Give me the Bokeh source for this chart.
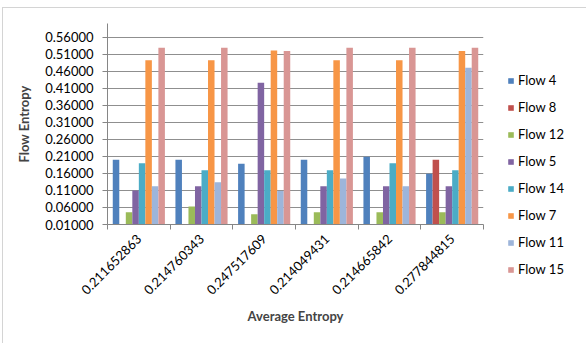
from bokeh.plotting import figure
from bokeh.models import Range1d, FixedTicker, Legend, LegendItem, InlineStyleSheet, NumeralTickFormatter
from bokeh.embed import file_html
from bokeh.resources import INLINE

# Category labels (average entropy of each run)
categories = ["0.211652863", "0.214760343", "0.247517609",
              "0.214049431", "0.214665842", "0.277844815"]

# Flow entropy per flow, one value per category
flow_4 = [0.200, 0.200, 0.188, 0.200, 0.209, 0.159]
flow_8 = [0.000, 0.000, 0.000, 0.000, 0.000, 0.200]
flow_12 = [0.046, 0.063, 0.040, 0.046, 0.046, 0.046]
flow_5 = [0.110, 0.122, 0.426, 0.122, 0.122, 0.122]
flow_14 = [0.190, 0.169, 0.169, 0.169, 0.190, 0.169]
flow_7 = [0.492, 0.492, 0.521, 0.492, 0.492, 0.519]
flow_11 = [0.122, 0.134, 0.108, 0.145, 0.122, 0.470]
flow_15 = [0.529, 0.529, 0.519, 0.529, 0.529, 0.529]

series_names = ["Flow 4", "Flow 8", "Flow 12", "Flow 5",
                "Flow 14", "Flow 7", "Flow 11", "Flow 15"]
series_values = [flow_4, flow_8, flow_12, flow_5, flow_14, flow_7, flow_11, flow_15]
series_colors = ["#4F81BD", "#C0504D", "#9BBB59", "#8064A2",
                 "#4BACC6", "#F79646", "#9DB5DA", "#D99694"]

# y axis ticks
y_ticks = [0.01, 0.06, 0.11, 0.16, 0.21, 0.26, 0.31, 0.36, 0.41, 0.46, 0.51, 0.56]

FONT = "Lato"
AXIS_GRAY = "#868686"

n = len(categories)
centers = [i + 0.5 for i in range(n)]
bounds = [float(i) for i in range(n + 1)]
bar_w = 0.104

p = figure(frame_width=376, frame_height=201, output_backend="svg", toolbar_location=None,
           x_range=Range1d(0, n), y_range=Range1d(0.01, 0.6),
           min_border_left=104, min_border_right=97, min_border_top=15,
           min_border_bottom=129)
p.outline_line_color = None
p.background_fill_color = "white"
p.border_fill_color = "white"
p.stylesheets = [InlineStyleSheet(css=":host { border: 1px solid #d4d4d4; "
                                      "border-right: 2px solid #a8a8a8; "
                                      "margin: 7px 0 0 2px; }")]

renderers = []
for j, (name, vals, col) in enumerate(zip(series_names, series_values, series_colors)):
    xs = [c + (j - 3.5) * bar_w for c in centers]
    r = p.vbar(x=xs, top=vals, bottom=0, width=bar_w, fill_color=col, line_color=None)
    renderers.append((name, r))

# y axis
p.yaxis.ticker = FixedTicker(ticks=y_ticks)
p.yaxis.formatter = NumeralTickFormatter(format="0.00000")
p.yaxis.axis_line_color = AXIS_GRAY
p.yaxis.major_tick_line_color = AXIS_GRAY
p.yaxis.major_tick_out = 5
p.yaxis.major_tick_in = 0
p.yaxis.minor_tick_line_color = None
p.yaxis.major_label_standoff = 9
p.yaxis.major_label_text_font = FONT
p.yaxis.major_label_text_font_size = "13px"
p.yaxis.major_label_text_color = "black"
p.yaxis.axis_label = "Flow Entropy"
p.yaxis.axis_label_text_font = FONT
p.yaxis.axis_label_text_font_style = "bold"
p.yaxis.axis_label_text_font_size = "13px"
p.yaxis.axis_label_standoff = 10

# x axis: labels at group centres, tick marks at group boundaries
p.xaxis.ticker = FixedTicker(ticks=centers, minor_ticks=bounds)
p.xaxis.major_label_overrides = {c: lab for c, lab in zip(centers, categories)}
p.xaxis.major_label_orientation = 0.785398
p.xaxis.axis_line_color = AXIS_GRAY
p.xaxis.major_tick_line_color = None
p.xaxis.minor_tick_line_color = AXIS_GRAY
p.xaxis.minor_tick_out = 5
p.xaxis.minor_tick_in = 0
p.xaxis.major_label_standoff = 6
p.xaxis.major_label_text_font = FONT
p.xaxis.major_label_text_font_size = "13px"
p.xaxis.major_label_text_color = "black"
p.xaxis.axis_label = "Average Entropy"
p.xaxis.axis_label_text_font = FONT
p.xaxis.axis_label_text_font_style = "bold"
p.xaxis.axis_label_text_font_size = "13px"
p.xaxis.axis_label_standoff = 6

p.xgrid.visible = False
p.ygrid.ticker = FixedTicker(ticks=y_ticks)
p.ygrid.grid_line_color = "#8f8f8f"

legend = Legend(items=[LegendItem(label=nm, renderers=[r]) for nm, r in renderers],
                location=(24, -55), orientation="vertical",
                glyph_width=7, glyph_height=7, label_height=20, spacing=7,
                label_standoff=4, padding=0, margin=0,
                border_line_color=None, background_fill_alpha=0,
                label_text_font=FONT, label_text_font_size="13px",
                label_text_color="black")
p.add_layout(legend, "right")

open("out.html", "w").write(file_html(p, INLINE))
